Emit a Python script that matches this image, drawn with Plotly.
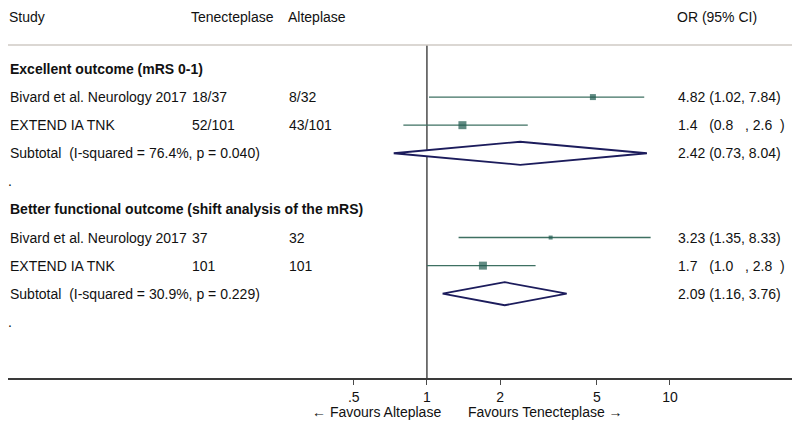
import plotly.graph_objects as go

# ---- data ----
studies = ["Bivard et al. Neurology 2017", "EXTEND IA TNK", "Bivard et al. Neurology 2017", "EXTEND IA TNK"]
tnk = ["18/37", "52/101", "37", "101"]
alt = ["8/32", "43/101", "32", "101"]
or_val = [4.82, 1.4, 3.23, 1.7]
ci_lo = [1.02, 0.8, 1.35, 1.0]
ci_hi = [7.84, 2.6, 8.33, 2.8]
or_text = ["4.82 (1.02, 7.84)", "1.4   (0.8   , 2.6  )", "3.23 (1.35, 8.33)", "1.7   (1.0   , 2.8  )"]
weights = [6, 8, 4, 8]  # marker size by study weight
study_rows = [1, 2, 6, 7]

groups = ["Excellent outcome (mRS 0-1)", "Better functional outcome (shift analysis of the mRS)"]
group_rows = [0, 5]
sub_labels = ["Subtotal  (I-squared = 76.4%, p = 0.040)", "Subtotal  (I-squared = 30.9%, p = 0.229)"]
sub_or = [2.42, 2.09]
sub_lo = [0.73, 1.16]
sub_hi = [8.04, 3.76]
sub_text = ["2.42 (0.73, 8.04)", "2.09 (1.16, 3.76)"]
sub_rows = [3, 8]
dot_rows = [4, 9]

header = ["Study", "Tenecteplase", "Alteplase", "OR (95% CI)"]

tick_vals = [0.5, 1, 2, 5, 10]
tick_text = [".5", "1", "2", "5", "10"]

# page body has an 8px margin, so the figure is drawn 8px in from the window edge
OFF = 8
W, H = 800 - OFF, 423 - OFF
ML, MR, MT, MB = 0, 3, 0, 45
PW = W - ML - MR
PH = H - MT - MB
FONT = "Liberation Sans, Arial, sans-serif"
FS = 14
TXT_COL = "#111111"
CI_COL = "#3e7062"
SQ_COL = "#1e5a4f"
DIA_COL = "#1c1c5c"

fig = go.Figure()

# vertical null line
fig.add_trace(go.Scatter(x=[1, 1], y=[-0.85, 11.0], mode="lines",
                         line=dict(color="#4a4a4a", width=1.5), hoverinfo="skip", showlegend=False))

# CI lines
xs, ys = [], []
for lo, hi, r in zip(ci_lo, ci_hi, study_rows):
    xs += [lo, hi, None]
    ys += [r, r, None]
fig.add_trace(go.Scatter(x=xs, y=ys, mode="lines", line=dict(color=CI_COL, width=1.4),
                         hoverinfo="skip", showlegend=False))

# squares
fig.add_trace(go.Scatter(x=or_val, y=study_rows, mode="markers",
                         marker=dict(symbol="square", size=weights, color=SQ_COL, line=dict(width=0)),
                         showlegend=False))

# diamonds
h = 0.41
for o, lo, hi, r in zip(sub_or, sub_lo, sub_hi, sub_rows):
    fig.add_trace(go.Scatter(x=[lo, o, hi, o, lo], y=[r, r - h, r, r + h, r], mode="lines",
                             fill="toself", fillcolor="white",
                             line=dict(color=DIA_COL, width=1.8), showlegend=False, hoverinfo="skip"))

ann = []
def px(xr):
    return (xr - OFF - ML - 2) / PW

def txt(x_ref, y, s, bold=False):
    ann.append(dict(x=px(x_ref), xref="paper", y=y, yref="y", text=("<b>%s</b>" % s) if bold else s,
                    showarrow=False, xanchor="left", yanchor="middle",
                    font=dict(family=FONT, size=FS, color=TXT_COL)))

# header (anchored at the top edge)
for xr, s in zip([10, 192, 289, 678], header):
    ann.append(dict(x=px(xr), xref="paper", y=1, yref="paper", text=s, showarrow=False,
                    xanchor="left", yanchor="top", borderpad=0,
                    font=dict(family=FONT, size=FS, color=TXT_COL)))

for g, r in zip(groups, group_rows):
    txt(10, r, g, bold=True)
for s, a, b, o, r in zip(studies, tnk, alt, or_text, study_rows):
    txt(10, r, s)
    txt(192, r, a)
    txt(289, r, b)
    txt(678, r, o)
for s, o, r in zip(sub_labels, sub_text, sub_rows):
    txt(10, r, s)
    txt(678, r, o)
for r in dot_rows:
    txt(8, r, ".")

# favours labels
ann.append(dict(x=(441 - OFF + 2) / PW, xref="paper", y=-34 / PH, yref="paper", text="← Favours Alteplase",
                showarrow=False, xanchor="right", yanchor="middle", font=dict(family=FONT, size=FS, color=TXT_COL)))
ann.append(dict(x=px(468), xref="paper", y=-34 / PH, yref="paper", text="Favours Tenecteplase →",
                showarrow=False, xanchor="left", yanchor="middle", font=dict(family=FONT, size=FS, color=TXT_COL)))

shapes = [dict(type="line", xref="paper", yref="y", x0=0, x1=1, y0=-0.85, y1=-0.85,
               line=dict(color="#cfcac4", width=1.5))]

fig.update_layout(
    width=W, height=H,
    margin=dict(l=ML, r=MR, t=MT, b=MB),
    paper_bgcolor="white", plot_bgcolor="white",
    annotations=ann, shapes=shapes,
    xaxis=dict(type="log", range=[-1.724, 1.523], showgrid=False, zeroline=False,
               tickvals=tick_vals, ticktext=tick_text, ticks="outside", ticklen=5,
               tickcolor="#4a4a4a", showline=True, linecolor="#3a3a3a", linewidth=1.5,
               tickfont=dict(family=FONT, size=FS, color=TXT_COL)),
    yaxis=dict(range=[11.0, -2.171], showgrid=False, zeroline=False, showticklabels=False,
               showline=False),
    showlegend=False,
)

fig.write_html("out.html")
